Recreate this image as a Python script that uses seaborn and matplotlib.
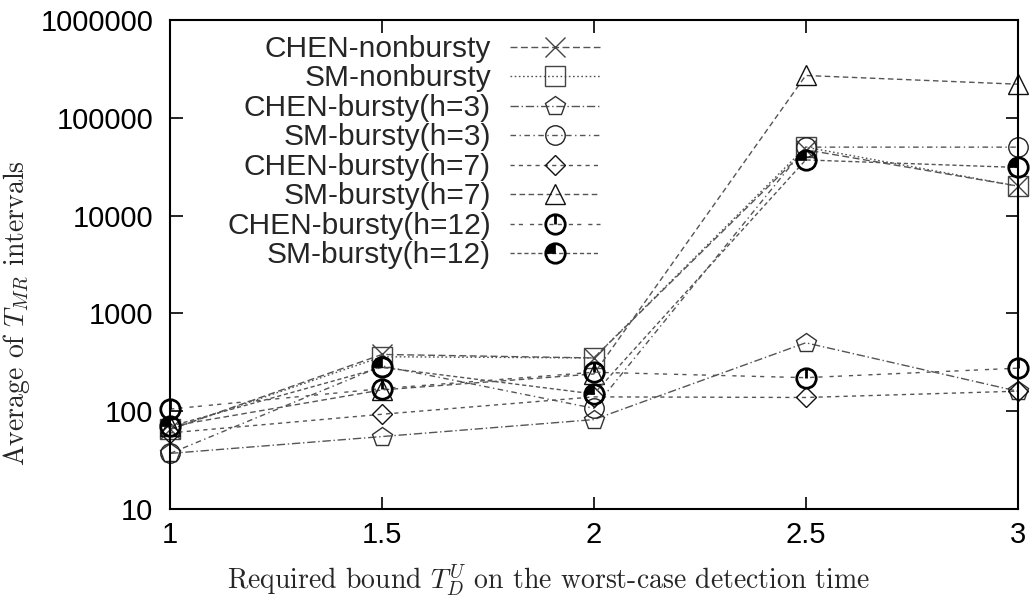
import numpy as np
import pandas as pd
import matplotlib
matplotlib.use('Agg')
from matplotlib import pyplot as plt
from matplotlib.path import Path
from matplotlib.legend_handler import HandlerTuple
import seaborn as sns

# Values
bounds = [1, 1.5, 2, 2.5, 3]
series_names = ['CHEN-nonbursty', 'SM-nonbursty', 'CHEN-bursty(h=3)', 'SM-bursty(h=3)',
                'CHEN-bursty(h=7)', 'SM-bursty(h=7)', 'CHEN-bursty(h=12)', 'SM-bursty(h=12)']
chen_nonbursty = [65, 380, 350, 47000, 20000]
sm_nonbursty = [65, 360, 350, 50000, 20000]
chen_bursty_h3 = [37, 55, 82, 500, 160]
sm_bursty_h3 = [37, 290, 107, 50000, 50000]
chen_bursty_h7 = [60, 93, 140, 138, 160]
sm_bursty_h7 = [70, 165, 240, 270000, 220000]
chen_bursty_h12 = [105, 170, 250, 220, 275]
sm_bursty_h12 = [70, 280, 150, 37000, 31000]
all_values = [chen_nonbursty, sm_nonbursty, chen_bursty_h3, sm_bursty_h3,
              chen_bursty_h7, sm_bursty_h7, chen_bursty_h12, sm_bursty_h12]

x_ticks = [1, 1.5, 2, 2.5, 3]
x_tick_labels = ['1', '1.5', '2', '2.5', '3']
y_ticks = [10, 100, 1000, 10000, 100000, 1000000]
y_tick_labels = ['10', '100', '1000', '10000', '100000', '1000000']

# Long-form table for seaborn
df = pd.DataFrame({
    'bound': np.tile(bounds, len(series_names)),
    'avg': np.concatenate(all_values),
    'series': np.repeat(series_names, len(bounds)),
})

sns.set_theme(style='ticks')
plt.rcParams['font.family'] = ['Liberation Sans', 'DejaVu Sans']
plt.rcParams['mathtext.fontset'] = 'cm'

# Custom gnuplot-like circle markers
circle_vline = Path.make_compound_path(Path.unit_circle(),
                                       Path([[0, 1], [0, 0]], [Path.MOVETO, Path.LINETO]))
quarter = Path.wedge(90, 180)

line_grey = '#555555'
styles = {
    'CHEN-nonbursty': dict(marker='x', ms=14, mec='#444444', mew=1.0, ls=(0, (5, 2.5))),
    'SM-nonbursty': dict(marker='s', ms=14, mec='#444444', mew=1.0, ls=(0, (1.2, 1.8))),
    'CHEN-bursty(h=3)': dict(marker='p', ms=15, mec='#333333', mew=1.0, ls=(0, (6, 2, 1, 2))),
    'SM-bursty(h=3)': dict(marker='o', ms=14, mec='#222222', mew=1.0, ls=(0, (4, 2.5, 1, 2.5))),
    'CHEN-bursty(h=7)': dict(marker='D', ms=10, mec='#111111', mew=1.0, ls=(0, (3, 3))),
    'SM-bursty(h=7)': dict(marker='^', ms=15, mec='#111111', mew=1.0, ls=(0, (4, 2.5))),
    'CHEN-bursty(h=12)': dict(marker=circle_vline, ms=14, mec='black', mew=2.0, ls=(0, (3, 3, 3, 5))),
    'SM-bursty(h=12)': dict(marker='o', ms=14, mec='black', mew=2.0, ls=(0, (3, 2))),
}

fig = plt.figure(figsize=(10.31, 6.02), dpi=100)
ax = fig.add_axes([0.165, 0.1545, 0.822, 0.8125])

handles = []
for name in series_names:
    st = styles[name]
    sub = df[df['series'] == name]
    sns.lineplot(data=sub, x='bound', y='avg', ax=ax, color=line_grey, linewidth=1.0,
                 linestyle=st['ls'], marker=st['marker'], markersize=st['ms'],
                 markeredgecolor=st['mec'], markerfacecolor='none',
                 markeredgewidth=st['mew'], legend=False, errorbar=None, clip_on=False)
    line = ax.lines[-1]
    if name == 'SM-bursty(h=12)':
        # filled top-left quadrant on top of the thick circle
        sns.lineplot(data=sub, x='bound', y='avg', ax=ax, color='black', linestyle='',
                     marker=quarter, markersize=st['ms'], markeredgecolor='black',
                     markerfacecolor='black', markeredgewidth=0.5, legend=False,
                     errorbar=None, clip_on=False)
        handles.append((line, ax.lines[-1]))
    else:
        handles.append(line)

ax.set_yscale('log')
ax.set_xlim(1, 3)
ax.set_ylim(10, 1000000)
ax.set_xticks(x_ticks, x_tick_labels)
ax.set_yticks(y_ticks, y_tick_labels)
ax.yaxis.set_minor_locator(matplotlib.ticker.NullLocator())
ax.tick_params(axis='both', which='major', direction='in', length=9, width=1.2,
               labelsize=21, top=True, right=True, colors='black')
ax.tick_params(axis='y', pad=12)
ax.tick_params(axis='x', pad=9)
for sp in ax.spines.values():
    sp.set_linewidth(1.5)
    sp.set_color('black')

ax.set_xlabel('Required bound $T_D^U$ on the worst-case detection time',
              fontfamily='cmr10', fontsize=20)
ax.set_ylabel('Average of $T_{MR}$ intervals', fontfamily='cmr10', fontsize=20)
ax.xaxis.set_label_coords(0.446, -0.110)
ax.yaxis.set_label_coords(-0.163, 0.40)

leg = ax.legend(handles=handles, labels=series_names, loc='upper right',
                bbox_to_anchor=(600 / 1031, 1 - 35 / 602), bbox_transform=fig.transFigure,
                frameon=False, markerfirst=False, fontsize=21.5, handlelength=3.0,
                handletextpad=0.65, labelspacing=0.05, borderpad=0, borderaxespad=0,
                handler_map={tuple: HandlerTuple(ndivide=1)})

fig.savefig('out.png', dpi=100)
